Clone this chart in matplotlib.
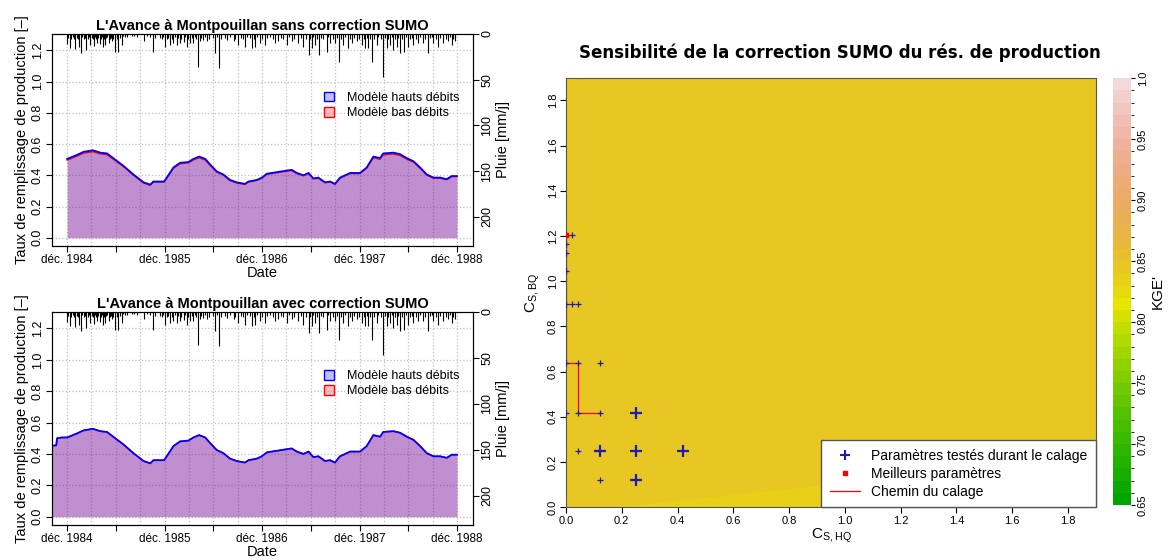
import numpy as np
import pandas as pd
import matplotlib
matplotlib.use('Agg')
import matplotlib.pyplot as plt
from matplotlib.lines import Line2D
from matplotlib.patches import Patch
from matplotlib.colors import ListedColormap, BoundaryNorm, hsv_to_rgb

plt.rcParams['font.family'] = ['Liberation Sans', 'DejaVu Sans']

# taux de remplissage - modele hauts debits (sans correction)
dates_sans = ['1984-12-01', '1985-01-06', '1985-01-31', '1985-03-07', '1985-04-04', '1985-04-29',
              '1985-05-30', '1985-06-30', '1985-08-06', '1985-09-13', '1985-10-08', '1985-10-20',
              '1985-11-29', '1985-12-09', '1986-01-03', '1986-01-28', '1986-02-28', '1986-03-19',
              '1986-04-09', '1986-05-02', '1986-05-20', '1986-06-14', '1986-07-09', '1986-08-03',
              '1986-08-28', '1986-09-28', '1986-10-11', '1986-11-11', '1986-11-30', '1986-12-19',
              '1987-01-25', '1987-03-03', '1987-03-22', '1987-04-10', '1987-05-05', '1987-05-24',
              '1987-06-11', '1987-06-30', '1987-07-25', '1987-08-13', '1987-08-31', '1987-09-19',
              '1987-10-27', '1987-12-03', '1987-12-28', '1988-01-22', '1988-02-16', '1988-02-28',
              '1988-04-06', '1988-05-01', '1988-05-26', '1988-06-20', '1988-07-15', '1988-08-09',
              '1988-09-03', '1988-09-28', '1988-10-23', '1988-11-10', '1988-11-30']
haut_sans = [0.505, 0.53, 0.55, 0.56, 0.545, 0.54, 0.50, 0.46, 0.405, 0.355,
             0.34, 0.36, 0.36, 0.385, 0.45, 0.48, 0.485, 0.505, 0.52, 0.505,
             0.47, 0.425, 0.405, 0.37, 0.355, 0.345, 0.36, 0.37, 0.385, 0.41,
             0.42, 0.43, 0.435, 0.415, 0.40, 0.415, 0.38, 0.385, 0.355, 0.36,
             0.345, 0.385, 0.415, 0.415, 0.45, 0.52, 0.51, 0.54, 0.545, 0.535,
             0.51, 0.49, 0.45, 0.405, 0.385, 0.385, 0.375, 0.395, 0.395]
bas_sans = [0.497, 0.522, 0.541, 0.551, 0.537, 0.532, 0.494, 0.455, 0.401, 0.351,
            0.336, 0.357, 0.357, 0.381, 0.445, 0.474, 0.479, 0.498, 0.512, 0.498,
            0.464, 0.421, 0.401, 0.366, 0.351, 0.341, 0.357, 0.367, 0.381, 0.406,
            0.416, 0.426, 0.430, 0.411, 0.397, 0.411, 0.377, 0.381, 0.352, 0.357,
            0.342, 0.381, 0.411, 0.411, 0.445, 0.512, 0.502, 0.531, 0.536, 0.527,
            0.503, 0.484, 0.445, 0.401, 0.381, 0.381, 0.372, 0.391, 0.391]

# avec correction : debut de serie avant dec. 1984, puis identique
dates_debut_avec = ['1984-10-05', '1984-10-21', '1984-10-24', '1984-11-12']
haut_debut_avec = [0.452, 0.455, 0.50, 0.505]

# pluie journaliere (jours depuis le 1er dec. 1984, mm/j)
pluie_jour = [1, 9, 30, 46, 51, 71, 86, 99, 111, 121, 134, 142, 155, 167, 180, 192, 205, 223,
              242, 286, 321, 348, 367, 386, 398, 411, 423, 436, 448, 461, 473, 489, 498, 510,
              523, 554, 569, 598, 623, 641, 666, 691, 704, 723, 741, 779, 791, 822, 841, 866,
              885, 904, 916, 929, 945, 972, 985, 1003, 1018, 1035, 1053, 1066, 1085, 1103,
              1116, 1128, 1141, 1159, 1182, 1197, 1209, 1222, 1234, 1247, 1262, 1278, 1297,
              1315, 1334, 1350, 1372, 1390, 1409, 1428, 1440, 1453]
pluie_mm = [11, 15.6, 16.3, 13.7, 21, 17.4, 11.9, 12.6, 10, 11, 13.7, 11.9, 10, 8.1, 19.3, 20,
            11.9, 3.7, 2.6, 8.1, 19.3, 4.4, 13.7, 11.9, 10, 11.9, 10, 8.9, 13.7, 10, 10, 36,
            8.1, 6.3, 8.1, 21, 37, 6.3, 8.1, 11.9, 13.7, 15.6, 13.7, 10, 11.9, 10, 8.1, 11.9,
            8.1, 10, 13.7, 23, 15.6, 11.9, 23, 19.3, 10, 10, 30.4, 11.9, 15.6, 10, 8.1, 11.9,
            15.6, 15.6, 30.4, 11.9, 47, 15.6, 11.9, 17.4, 13.7, 21, 19.3, 13.7, 11.9, 10, 10,
            21, 10, 13.7, 10, 8.1, 11.9, 8.1]
# petites pluies (bande dense sous le cadre)
petite_jour = [4, 14, 20, 25, 38, 42, 56, 63, 66, 78, 82, 92, 95, 104, 107, 115, 126, 130, 138,
               147, 150, 160, 163, 172, 185, 188, 197, 210, 215, 250, 260, 300, 310, 330, 355,
               360, 372, 378, 392, 404, 416, 428, 442, 452, 466, 478, 484, 503, 516, 530, 545,
               560, 575, 590, 610, 630, 650, 660, 675, 685, 698, 712, 730, 750, 760, 770, 800,
               810, 830, 850, 875, 895, 910, 922, 937, 952, 960, 978, 995, 1010, 1025, 1042,
               1060, 1075, 1092, 1110, 1122, 1135, 1148, 1165, 1175, 1190, 1203, 1215, 1228,
               1240, 1255, 1270, 1285, 1290, 1305, 1322, 1340, 1358, 1365, 1380, 1398, 1418,
               1435, 1447]
petite_mm = [4, 5, 3, 6, 4, 5, 3, 6, 4, 5, 3, 4, 6, 3, 5, 4, 6, 3, 5,
             4, 3, 5, 4, 6, 3, 5, 4, 2, 3, 2, 3, 2, 3, 4, 5,
             3, 6, 4, 5, 3, 4, 6, 3, 5, 4, 3, 5, 4, 3, 5, 4,
             3, 5, 4, 3, 5, 4, 6, 3, 4, 5, 3, 6, 4, 3, 5, 4,
             6, 3, 5, 4, 6, 5, 3, 6, 4, 5, 3, 6, 4, 5, 3,
             6, 4, 5, 6, 4, 5, 6, 3, 5, 4, 6, 3, 5,
             4, 6, 3, 5, 4, 6, 3, 5, 4, 3, 5, 4, 6,
             3, 5]

# sensibilite KGE'
kge_x = [0.0, 0.15, 1.0, 1.9]
kge_y = [0.0, 0.12, 1.9]
kge = [[0.845, 0.8401, 0.835, 0.835],
       [0.845, 0.845, 0.8405, 0.845],
       [0.845, 0.845, 0.845, 0.845]]

teste_x = [0.25, 0.122, 0.25, 0.42, 0.25,
           0.042, 0.122, 0.122, 0.042, 0.0, 0.122, 0.042, 0.0, 0.0, 0.023, 0.042,
           0.0, 0.023, 0.0, 0.0, 0.0]
teste_y = [0.419, 0.25, 0.25, 0.25, 0.121,
           0.25, 0.121, 0.419, 0.419, 0.419, 0.637, 0.637, 0.637, 0.9, 0.9, 0.9,
           1.205, 1.205, 1.165, 1.124, 1.047]
teste_gros = [True] * 5 + [False] * 16
chemin_x = [0.122, 0.042, 0.042, 0.0, 0.0, 0.0]
chemin_y = [0.419, 0.419, 0.637, 0.637, 0.9, 1.205]
meilleur_x = [0.0]
meilleur_y = [1.205]

d0 = pd.Timestamp('1984-12-01')
pluie_dates = d0 + pd.to_timedelta(pluie_jour, unit='D')
petite_dates = d0 + pd.to_timedelta(petite_jour, unit='D')
xmin, xmax = pd.Timestamp('1984-10-05'), pd.Timestamp('1989-01-29')

fig = plt.figure(figsize=(11.71, 5.6), dpi=100)


def panneau(ax, d_h, v_h, d_b, v_b, titre):
    d_h = pd.to_datetime(d_h)
    d_b = pd.to_datetime(d_b)
    ax.fill_between(d_b, 0, v_b, color='red', alpha=0.25, lw=0)
    ax.fill_between(d_h, 0, v_h, color='blue', alpha=0.25, lw=0)
    ax.plot(d_b, v_b, color='red', lw=1)
    ax.plot(d_h, v_h, color='blue', lw=1.3)
    ax.set_xlim(xmin, xmax)
    ax.set_ylim(-0.053, 1.305)
    ax.set_yticks(np.arange(0, 1.21, 0.2))
    ax.set_yticklabels(['%.1f' % v for v in np.arange(0, 1.21, 0.2)], rotation=90, va='center', fontsize=9)
    maj = pd.to_datetime(['1984-12-01', '1985-06-01', '1985-12-01', '1986-06-01', '1986-12-01',
                          '1987-06-01', '1987-12-01', '1988-06-01', '1988-12-01'])
    lab = ['déc. 1984', '', 'déc. 1985', '', 'déc. 1986', '', 'déc. 1987', '', 'déc. 1988']
    ax.set_xticks(maj)
    ax.set_xticklabels(lab, fontsize=8.5)
    mino = pd.to_datetime(['1985-03-01', '1985-09-01', '1986-03-01', '1986-09-01',
                           '1987-03-01', '1987-09-01', '1988-03-01', '1988-09-01'])
    ax.set_xticks(mino, minor=True)
    ax.tick_params(axis='x', which='minor', length=0)
    ax.tick_params(which='major', length=4, pad=2)
    ax.grid(True, which='both', color='#c0c0c0', ls=':', lw=0.9)
    ax.set_axisbelow(True)
    ax.set_title(titre, fontweight='bold', fontsize=10.5, pad=3)
    ax.set_xlabel('Date', fontsize=10.5, labelpad=0)
    ax.set_ylabel('Taux de remplissage de production [–]', fontsize=10.5, labelpad=2)
    ax.legend(handles=[Patch(facecolor=(0, 0, 1, 0.25), edgecolor='blue', label='Modèle hauts débits'),
                       Patch(facecolor=(1, 0, 0, 0.25), edgecolor='red', label='Modèle bas débits')],
              loc='upper left', bbox_to_anchor=(0.62, 0.78), frameon=False, fontsize=9,
              handlelength=0.8, handleheight=0.8, handletextpad=1.0, labelspacing=0.25)

    axr = ax.twinx()
    axr.vlines(petite_dates, 0, petite_mm, color='black', lw=0.8)
    axr.vlines(pluie_dates, 0, pluie_mm, color='black', lw=0.8)
    axr.set_ylim(232, 0)
    axr.set_yticks([0, 50, 100, 150, 200])
    axr.set_yticklabels(['0', '50', '100', '150', '200'], rotation=90, va='center', fontsize=9)
    axr.tick_params(length=4, pad=2)
    axr.set_ylabel('Pluie [mm/j]', fontsize=10.5, rotation=90, labelpad=2)
    axr.set_xlim(xmin, xmax)


ax1 = fig.add_axes([0.0444, 0.5607, 0.3595, 0.3786])
panneau(ax1, dates_sans, haut_sans, dates_sans, bas_sans,
        "L'Avance à Montpouillan sans correction SUMO")

ax2 = fig.add_axes([0.0444, 0.0625, 0.3595, 0.3804])
panneau(ax2, dates_debut_avec + dates_sans, haut_debut_avec + haut_sans,
        dates_debut_avec + dates_sans, haut_debut_avec + haut_sans,
        "L'Avance à Montpouillan avec correction SUMO")


# palette terrain.colors de R
def terrain_colors(n):
    k = n // 2
    h1 = np.linspace(4 / 12, 2 / 12, k)
    s1 = np.linspace(1, 1, k)
    v1 = np.linspace(0.65, 0.9, k)
    h2 = np.linspace(2 / 12, 0, n - k + 1)[1:]
    s2 = np.linspace(1, 0.1, n - k + 1)[1:]
    v2 = np.linspace(0.9, 0.95, n - k + 1)[1:]
    hsv = np.column_stack([np.concatenate([h1, h2]), np.concatenate([s1, s2]), np.concatenate([v1, v2])])
    return hsv_to_rgb(hsv)


niveaux = np.round(np.linspace(0.65, 1.0, 36), 2)
cmap = ListedColormap(terrain_colors(35))
norm = BoundaryNorm(niveaux, 35)

axh = fig.add_axes([0.4833, 0.0941, 0.4526, 0.7671])
cf = axh.contourf(kge_x, kge_y, kge, levels=niveaux, cmap=cmap, norm=norm)
axh.plot(chemin_x, chemin_y, color='red', lw=0.9)
gros = np.array(teste_gros)
axh.scatter(np.array(teste_x)[gros], np.array(teste_y)[gros], marker='+', s=70, color='#1c1cb0', linewidths=1.6, zorder=3)
axh.scatter(np.array(teste_x)[~gros], np.array(teste_y)[~gros], marker='+', s=22, color='#1c1cb0', linewidths=0.9, zorder=3)
axh.scatter(meilleur_x, meilleur_y, marker='s', s=12, color='red', zorder=4)
axh.set_xlim(0, 1.9)
axh.set_ylim(0, 1.9)
tk = np.arange(0, 1.81, 0.2)
axh.set_xticks(tk)
axh.set_xticklabels(['%.1f' % v for v in tk], fontsize=8)
axh.set_yticks(tk)
axh.set_yticklabels(['%.1f' % v for v in tk], fontsize=8, rotation=90, va='center')
axh.tick_params(length=4, pad=2)
for s in axh.spines.values():
    s.set_color('#555555')
axh.set_xlabel(r'$\mathregular{C_{S,HQ}}$', fontsize=11, labelpad=1)
axh.set_ylabel(r'$\mathregular{C_{S,BQ}}$', fontsize=11, labelpad=4)
axh.legend(handles=[Line2D([0], [0], marker='+', color='#1c1cb0', ls='none', ms=7, mew=1.5),
                    Line2D([0], [0], marker='s', color='red', ls='none', ms=3),
                    Line2D([0], [0], color='red', lw=0.9)],
           labels=['Paramètres testés durant le calage', 'Meilleurs paramètres', 'Chemin du calage'],
           loc='lower right', fontsize=10, fancybox=False, framealpha=1, edgecolor='#555555',
           borderaxespad=0, handlelength=2.2, labelspacing=0.3, borderpad=0.6)
fig.text(0.717, 0.905, 'Sensibilité de la correction SUMO du rés. de production',
         ha='center', va='center', fontsize=12, fontweight='bold', family='DejaVu Sans')

cax = fig.add_axes([0.9505, 0.0982, 0.0154, 0.762])
cb = fig.colorbar(cf, cax=cax, ticks=[0.65, 0.7, 0.75, 0.8, 0.85, 0.9, 0.95, 1.0])
cb.outline.set_visible(False)
cax.set_yticklabels(['0.65', '0.70', '0.75', '0.80', '0.85', '0.90', '0.95', '1.0'],
                    rotation=90, va='center', fontsize=8)
cax.tick_params(length=3, pad=2)
cb.set_label("KGE'", fontsize=11, labelpad=2)

fig.savefig('out.png', dpi=100)
